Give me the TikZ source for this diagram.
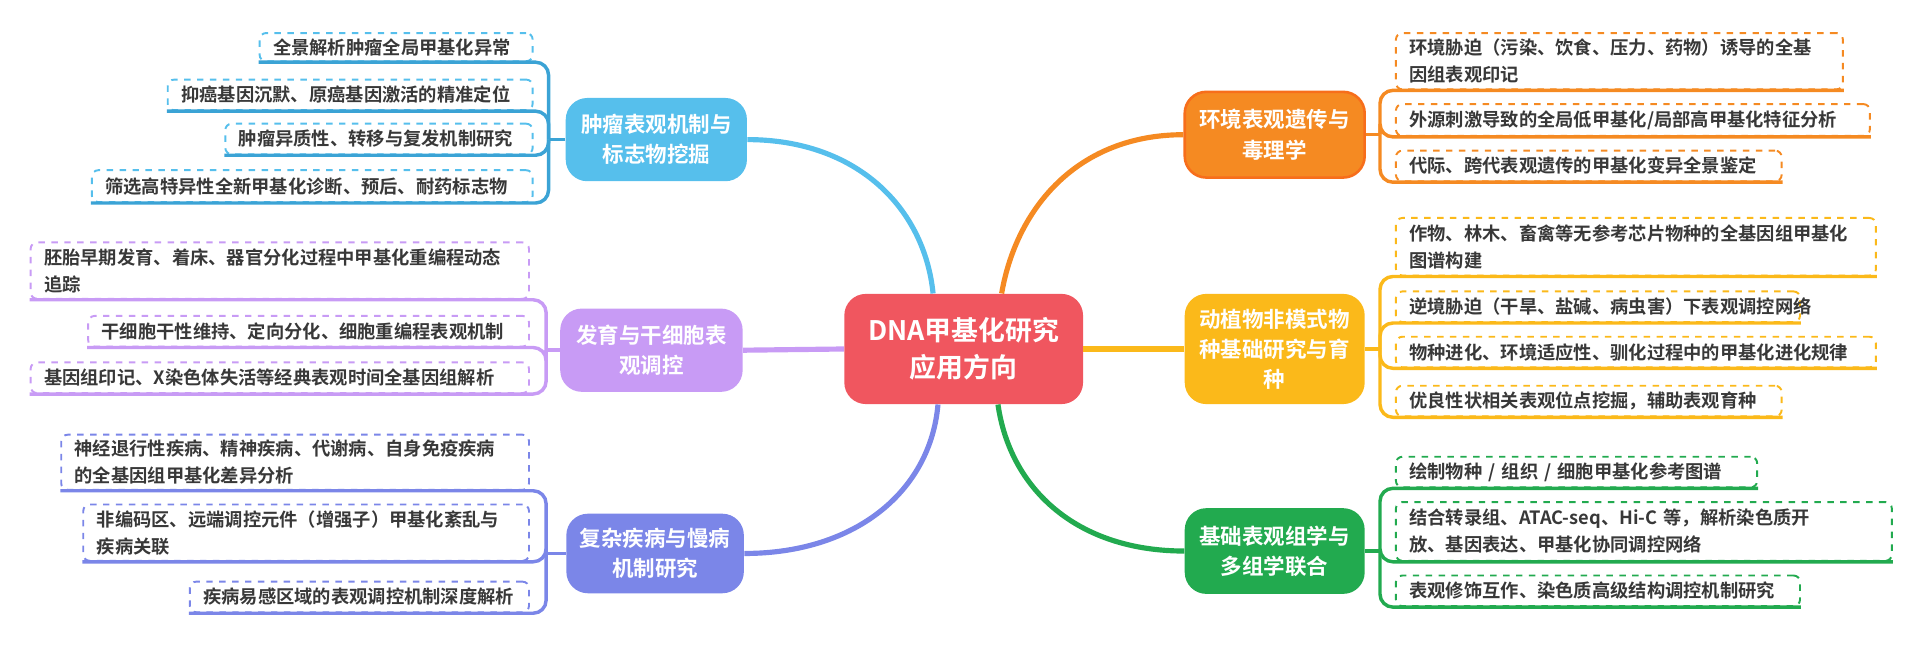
\documentclass[tikz,border=0pt]{standalone}
\usepackage{fontspec}
\setmainfont{Noto Sans CJK SC}[BoldFont={Noto Sans CJK SC Bold}]
\begin{document}
\begin{tikzpicture}[x=0.02cm,y=-0.02cm,
  leaf/.style={draw=#1,dashed,line width=0.9pt,rounded corners=3pt,inner sep=0pt,font=\bfseries\fontsize{8.5}{12.5}\selectfont,text=black!78,align=left},
  br/.style={rounded corners=10pt,inner sep=0pt,font=\bfseries\fontsize{10}{14}\selectfont,text=white,align=center,fill=#1},
  ul/.style={draw=#1,line width=1.6pt,rounded corners=6pt},
  conn/.style={draw=#1,line width=2.4pt}]
\definecolor{cblue}{HTML}{56BFEC}\definecolor{cbluel}{HTML}{3BA3D5}
\definecolor{cpur}{HTML}{C89BF5}\definecolor{cind}{HTML}{7B86E8}
\definecolor{corg}{HTML}{F58A22}\definecolor{cyel}{HTML}{FBB91A}
\definecolor{cgrn}{HTML}{22AA4F}\definecolor{cred}{HTML}{F0565F}
\useasboundingbox (0,0) rectangle (1568,528);
\newcommand{\lf}[7]{\node[leaf=#1,minimum width={(#4-#2)*0.02cm},minimum height={(#5-#3)*0.02cm},text width={(#4-#2-22)*0.02cm}] (#6) at ({(#2+#4)/2},{(#3+#5)/2}) {#7};}
% center
\node[fill=cred,rounded corners=10pt,minimum width=3.9cm,minimum height=1.8cm,font=\bfseries\fontsize{12.5}{17}\selectfont,text=white,align=center] (c) at (787,285) {DNA甲基化研究\\应用方向};
% branches
\node[br=cblue,minimum width=2.96cm,minimum height=1.36cm] (b1) at (536,114) {肿瘤表观机制与\\标志物挖掘};
\node[br=cpur,minimum width=2.98cm,minimum height=1.36cm] (b2) at (532,286) {发育与干细胞表\\观调控};
\node[br=cind,minimum width=2.9cm,minimum height=1.3cm] (b3) at (535,452) {复杂疾病与慢病\\机制研究};
\node[br=corg,draw=corg!80!red,line width=1.2pt,minimum width=2.94cm,minimum height=1.4cm] (b4) at (1041,110) {环境表观遗传与\\毒理学};
\node[br=cyel,minimum width=2.94cm,minimum height=1.8cm] (b5) at (1041,285) {动植物非模式物\\种基础研究与育\\种};
\node[br=cgrn,minimum width=2.94cm,minimum height=1.4cm] (b6) at (1041,450) {基础表观组学与\\多组学联合};
% main connectors
\draw[conn=cblue] (b1.east) .. controls (700,114) and (755,170) .. (c.north west -| 762,0);
\draw[conn=cpur] (b2.east) -- (c.west);
\draw[conn=cind] (b3.east) .. controls (700,452) and (760,400) .. (c.south west -| 766,0);
\draw[conn=corg] (b4.west) .. controls (880,110) and (830,170) .. (c.north east -| 818,0);
\draw[conn=cyel] (b5.west) -- (c.east);
\draw[conn=cgrn] (b6.west) .. controls (880,450) and (825,400) .. (c.south east -| 815,0);
% leaves left
\lf{cblue}{212}{27}{435}{50}{l11}{全景解析肿瘤全局甲基化异常}
\lf{cblue}{137}{65}{435}{90}{l12}{抑癌基因沉默、原癌基因激活的精准定位}
\lf{cblue}{184}{101}{435}{126}{l13}{肿瘤异质性、转移与复发机制研究}
\lf{cblue}{75}{139}{435}{165}{l14}{筛选高特异性全新甲基化诊断、预后、耐药标志物}
\lf{cpur}{25}{198}{432}{244}{l21}{胚胎早期发育、着床、器官分化过程中甲基化重编程动态\\追踪}
\lf{cpur}{72}{258}{432}{283}{l22}{干细胞干性维持、定向分化、细胞重编程表观机制}
\lf{cpur}{25}{296}{432}{321}{l23}{基因组印记、X染色体失活等经典表观时间全基因组解析}
\lf{cind}{50}{355}{432}{400}{l31}{神经退行性疾病、精神疾病、代谢病、自身免疫疾病\\的全基因组甲基化差异分析}
\lf{cind}{68}{412}{432}{458}{l32}{非编码区、远端调控元件（增强子）甲基化紊乱与\\疾病关联}
\lf{cind}{155}{475}{432}{500}{l33}{疾病易感区域的表观调控机制深度解析}
% leaves right
\lf{corg}{1140}{27}{1505}{73}{r11}{环境胁迫（污染、饮食、压力、药物）诱导的全基\\因组表观印记}
\lf{corg}{1140}{85}{1527}{111}{r12}{外源刺激导致的全局低甲基化/局部高甲基化特征分析}
\lf{corg}{1140}{123}{1455}{148}{r13}{代际、跨代表观遗传的甲基化变异全景鉴定}
\lf{cyel}{1140}{178}{1532}{225}{r21}{作物、林木、畜禽等无参考芯片物种的全基因组甲基化\\图谱构建}
\lf{cyel}{1140}{238}{1470}{263}{r22}{逆境胁迫（干旱、盐碱、病虫害）下表观调控网络}
\lf{cyel}{1140}{275}{1532}{300}{r23}{物种进化、环境适应性、驯化过程中的甲基化进化规律}
\lf{cyel}{1140}{315}{1455}{340}{r24}{优良性状相关表观位点挖掘，辅助表观育种}
\lf{cgrn}{1140}{373}{1435}{398}{r31}{绘制物种 / 组织 / 细胞甲基化参考图谱}
\lf{cgrn}{1140}{410}{1545}{458}{r32}{结合转录组、ATAC-seq、Hi-C 等，解析染色质开\\放、基因表达、甲基化协同调控网络}
\lf{cgrn}{1140}{470}{1470}{495}{r33}{表观修饰互作、染色质高级结构调控机制研究}
% brackets
\coordinate (k1) at (448,114); \coordinate (k2) at (446,286); \coordinate (k3) at (446,452);
\coordinate (k4) at (1127,110); \coordinate (k5) at (1127,285); \coordinate (k6) at (1127,450);
\draw[ul=cbluel] (b1.west) -- (k1);
\foreach \n in {l11,l12,l13,l14}{\draw[ul=cbluel] (\n.south west) -| (k1);}
\draw[ul=cpur] (b2.west) -- (k2);
\foreach \n in {l21,l22,l23}{\draw[ul=cpur] (\n.south west) -| (k2);}
\draw[ul=cind] (b3.west) -- (k3);
\foreach \n in {l31,l32,l33}{\draw[ul=cind] (\n.south west) -| (k3);}
\draw[ul=corg] (b4.east) -- (k4);
\foreach \n in {r11,r12,r13}{\draw[ul=corg] (\n.south east) -| (k4);}
\draw[ul=cyel] (b5.east) -- (k5);
\foreach \n in {r21,r22,r23,r24}{\draw[ul=cyel] (\n.south east) -| (k5);}
\draw[ul=cgrn] (b6.east) -- (k6);
\foreach \n in {r31,r32,r33}{\draw[ul=cgrn] (\n.south east) -| (k6);}
\end{tikzpicture}
\end{document}
